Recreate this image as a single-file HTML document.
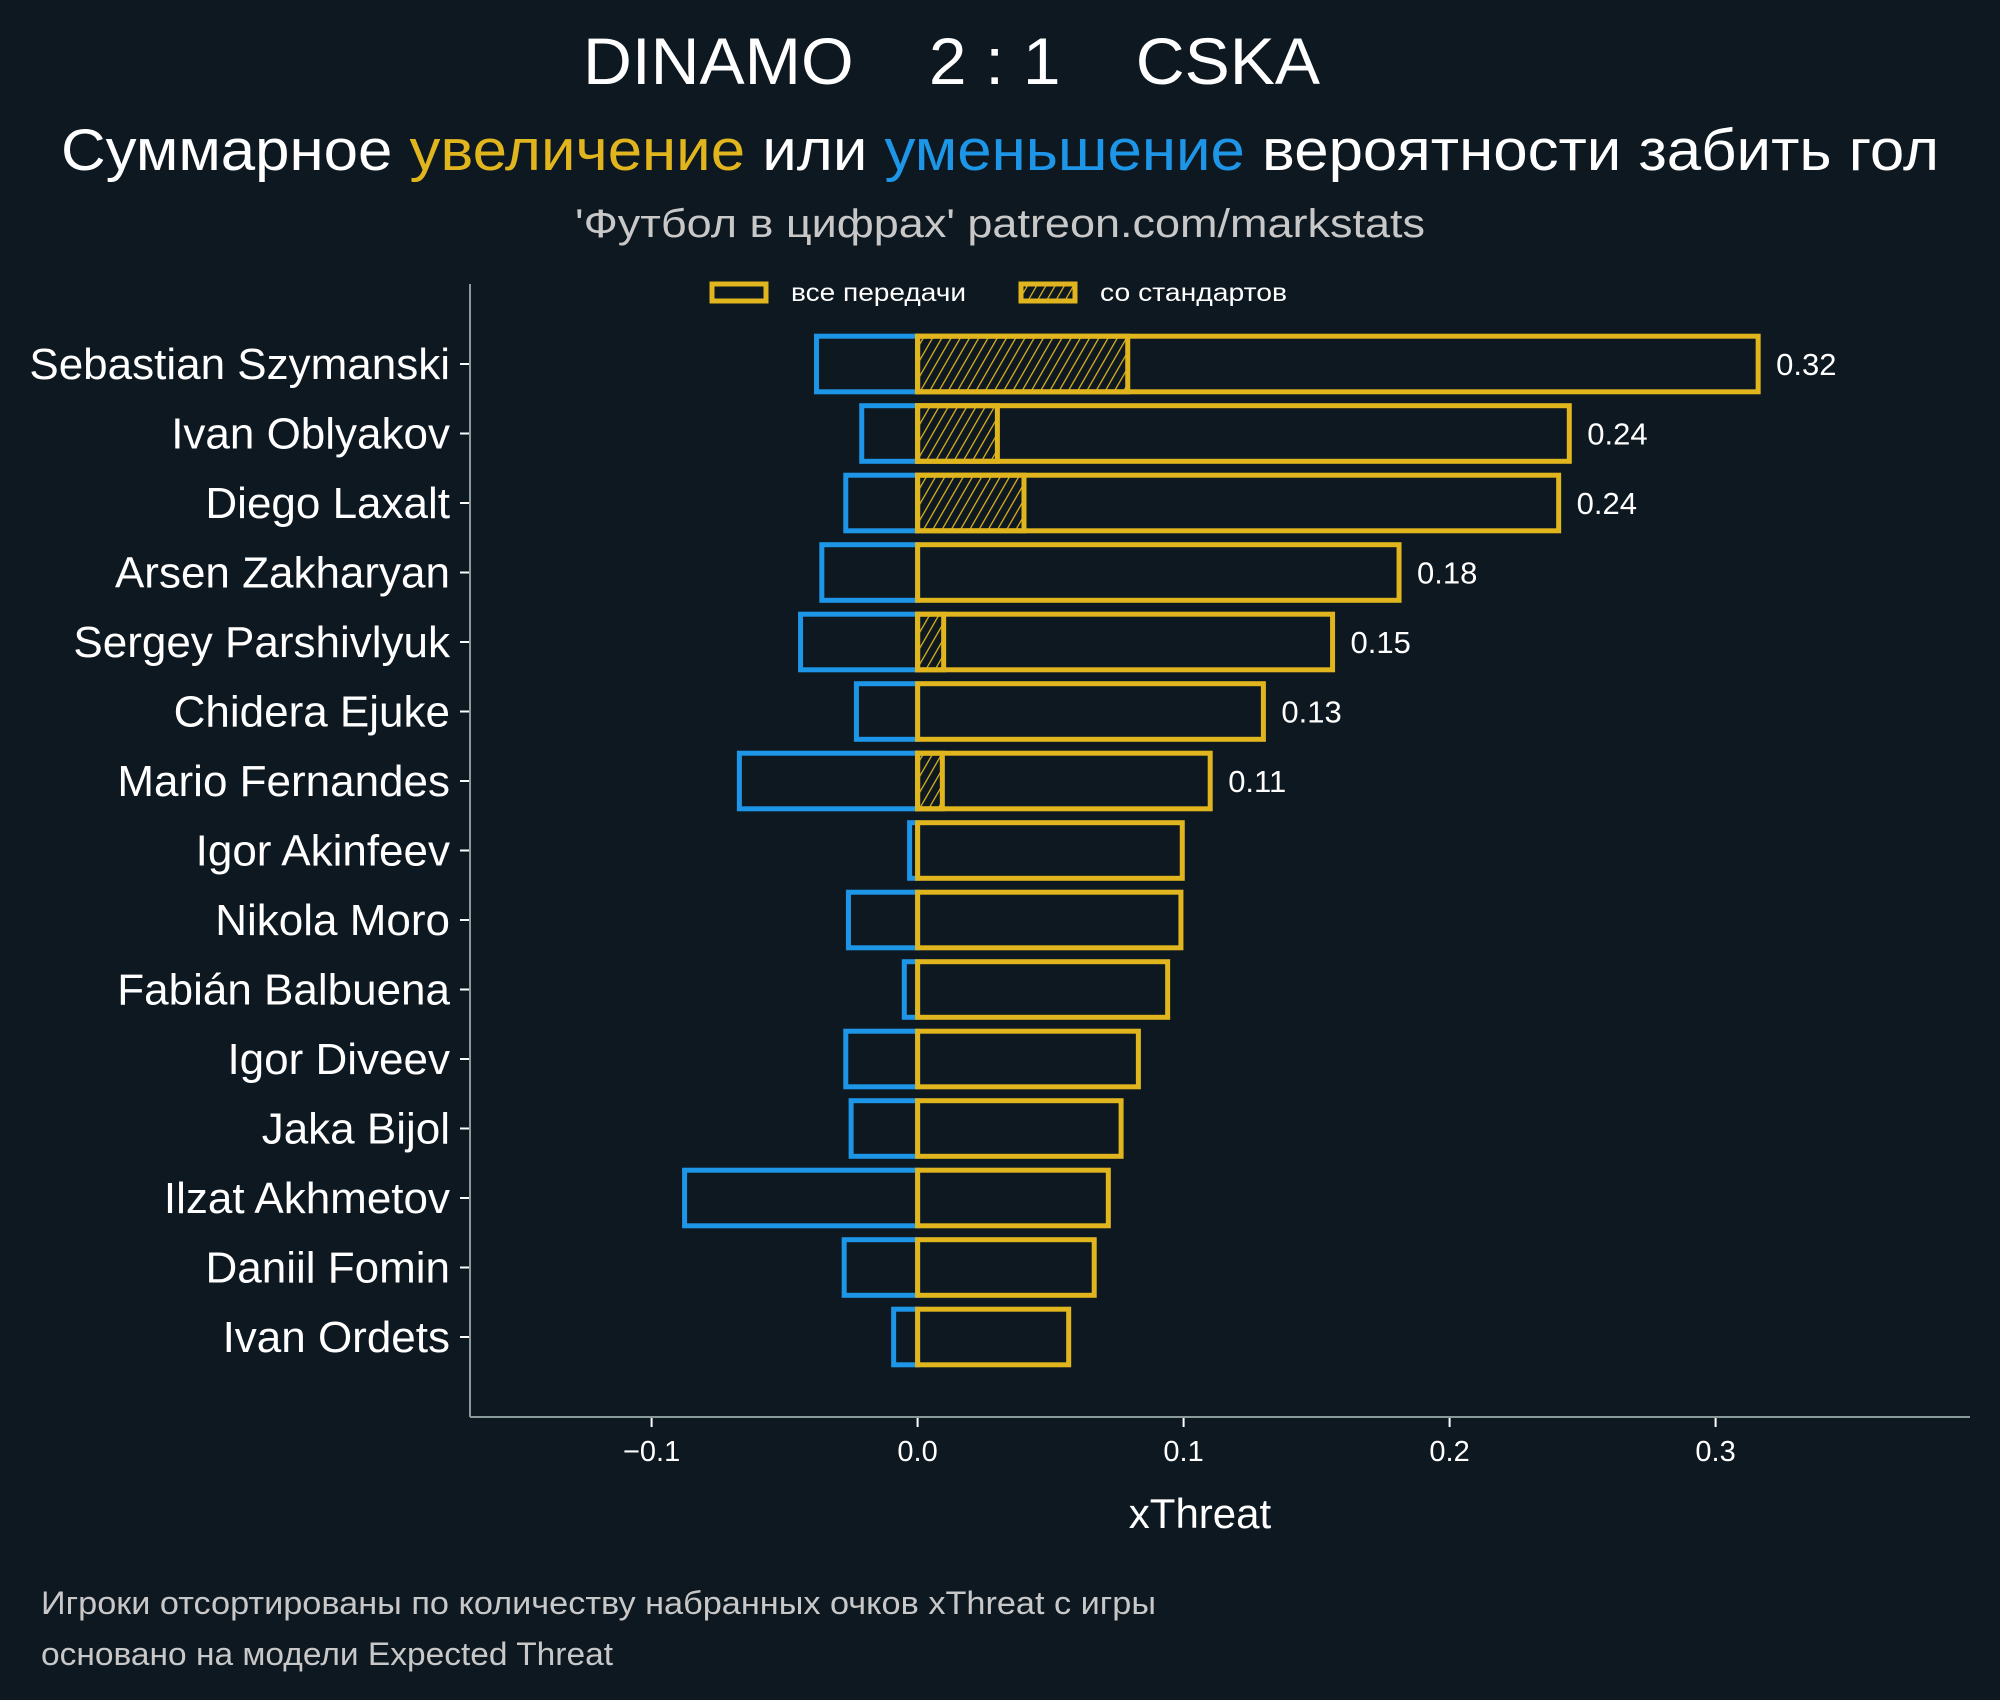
<!DOCTYPE html>
<html><head><meta charset="utf-8"><style>
body{margin:0;background:#0e1821;}
svg{display:block;font-family:"Liberation Sans","DejaVu Sans",sans-serif;}
</style></head><body>
<svg id="chart" width="2000" height="1700" viewBox="0 0 2000 1700" xmlns="http://www.w3.org/2000/svg">
<defs>
<pattern id="hatch" patternUnits="userSpaceOnUse" width="8" height="8" patternTransform="rotate(30)">
<line x1="0" y1="0" x2="0" y2="8" stroke="#e0b51e" stroke-width="2.5"/>
</pattern>
</defs>
<rect width="2000" height="1700" fill="#0e1821"/>
<text x="583" y="84" textLength="737" lengthAdjust="spacingAndGlyphs" fill="#fff" font-size="66" xml:space="preserve">DINAMO    2 : 1    CSKA</text>
<text x="61" y="170" textLength="1878" lengthAdjust="spacingAndGlyphs" fill="#fff" font-size="58">Суммарное <tspan fill="#e0b51e">увеличение</tspan> или <tspan fill="#1e96e8">уменьшение</tspan> вероятности забить гол</text>
<text x="575" y="237" textLength="850" lengthAdjust="spacingAndGlyphs" fill="#c8c8c8" font-size="40">'Футбол в цифрах' patreon.com/markstats</text>
<g>
<rect x="712" y="284" width="54" height="17" fill="none" stroke="#e0b51e" stroke-width="5"/>
<text x="791" y="301" textLength="175" lengthAdjust="spacingAndGlyphs" fill="#fff" font-size="25">все передачи</text>
<rect x="1021" y="284" width="54" height="17" fill="url(#hatch)" stroke="#e0b51e" stroke-width="5"/>
<text x="1100" y="301" textLength="187" lengthAdjust="spacingAndGlyphs" fill="#fff" font-size="25">со стандартов</text>
</g>
<g id="plot"></g>
<line x1="470" y1="284" x2="470" y2="1417" stroke="#8a9a9a" stroke-width="2"/>
<line x1="470" y1="1417" x2="1970" y2="1417" stroke="#8a9a9a" stroke-width="2"/>
<text x="1200" y="1528" text-anchor="middle" fill="#fff" font-size="42">xThreat</text>
<text x="41" y="1614" textLength="1115" lengthAdjust="spacingAndGlyphs" fill="#c8c8c8" font-size="32">Игроки отсортированы по количеству набранных очков xThreat с игры</text>
<text x="41" y="1665" textLength="572" lengthAdjust="spacingAndGlyphs" fill="#c8c8c8" font-size="32">основано на модели Expected Threat</text>
</svg>
<script>
const players = ["Sebastian Szymanski","Ivan Oblyakov","Diego Laxalt","Arsen Zakharyan","Sergey Parshivlyuk","Chidera Ejuke","Mario Fernandes","Igor Akinfeev","Nikola Moro","Fabián Balbuena","Igor Diveev","Jaka Bijol","Ilzat Akhmetov","Daniil Fomin","Ivan Ordets"];
const positiveValues = [0.316,0.245,0.241,0.181,0.156,0.130,0.110,0.0995,0.099,0.094,0.083,0.0765,0.0717,0.0664,0.0568];
const negativeValues = [-0.038,-0.021,-0.027,-0.036,-0.044,-0.023,-0.067,-0.003,-0.026,-0.005,-0.027,-0.025,-0.0876,-0.0276,-0.009];
const setPieceValues = [0.079,0.030,0.040,0,0.0098,0,0.0093,0,0,0,0,0,0,0,0];
const printedValues = ["0.32","0.24","0.24","0.18","0.15","0.13","0.11","","","","","","","",""];
const xTicks = [-0.1,0,0.1,0.2,0.3];
const xTickLabels = ["\u22120.1","0.0","0.1","0.2","0.3"];

const NS="http://www.w3.org/2000/svg";
const plot=document.getElementById('plot');
const xs=v=>917.6+v*2660;
const ys=i=>364+i*69.5;
const bh=69.5*0.8;
function mk(tag,attrs){const e=document.createElementNS(NS,tag);for(const k in attrs)e.setAttribute(k,attrs[k]);plot.appendChild(e);return e;}
players.forEach((p,i)=>{
  const y=ys(i);
  let r=mk('rect',{x:xs(negativeValues[i]),y:y-bh/2,width:xs(0)-xs(negativeValues[i]),height:bh,fill:'none',stroke:'#1e96e8','stroke-width':5});
  
  
  if(setPieceValues[i]>0){
    let h=mk('rect',{x:xs(0),y:y-bh/2,width:xs(setPieceValues[i])-xs(0),height:bh,fill:'url(#hatch)',stroke:'#e0b51e','stroke-width':5});
    
    
  }
  let b=mk('rect',{x:xs(0),y:y-bh/2,width:xs(positiveValues[i])-xs(0),height:bh,fill:'none',stroke:'#e0b51e','stroke-width':5});
  
  
  if(printedValues[i]){
    let t=mk('text',{x:xs(positiveValues[i])+18,y:y+11,fill:'#fff','font-size':31});
    t.textContent=printedValues[i];
    
    
  }
  let tk=mk('line',{x1:460,x2:470,y1:y,y2:y,stroke:'#fff','stroke-width':2});
  
  
  let l=mk('text',{x:450,y:y+15,'text-anchor':'end',fill:'#fff','font-size':44});
  l.textContent=p;
  
  
});
xTicks.forEach((v,i)=>{
  let tk=mk('line',{x1:xs(v),x2:xs(v),y1:1417,y2:1427,stroke:'#fff','stroke-width':2});
  
  
  let t=mk('text',{x:xs(v),y:1461,'text-anchor':'middle',fill:'#fff','font-size':29});
  t.textContent=xTickLabels[i];
  
  
});
</script>
</body></html>
